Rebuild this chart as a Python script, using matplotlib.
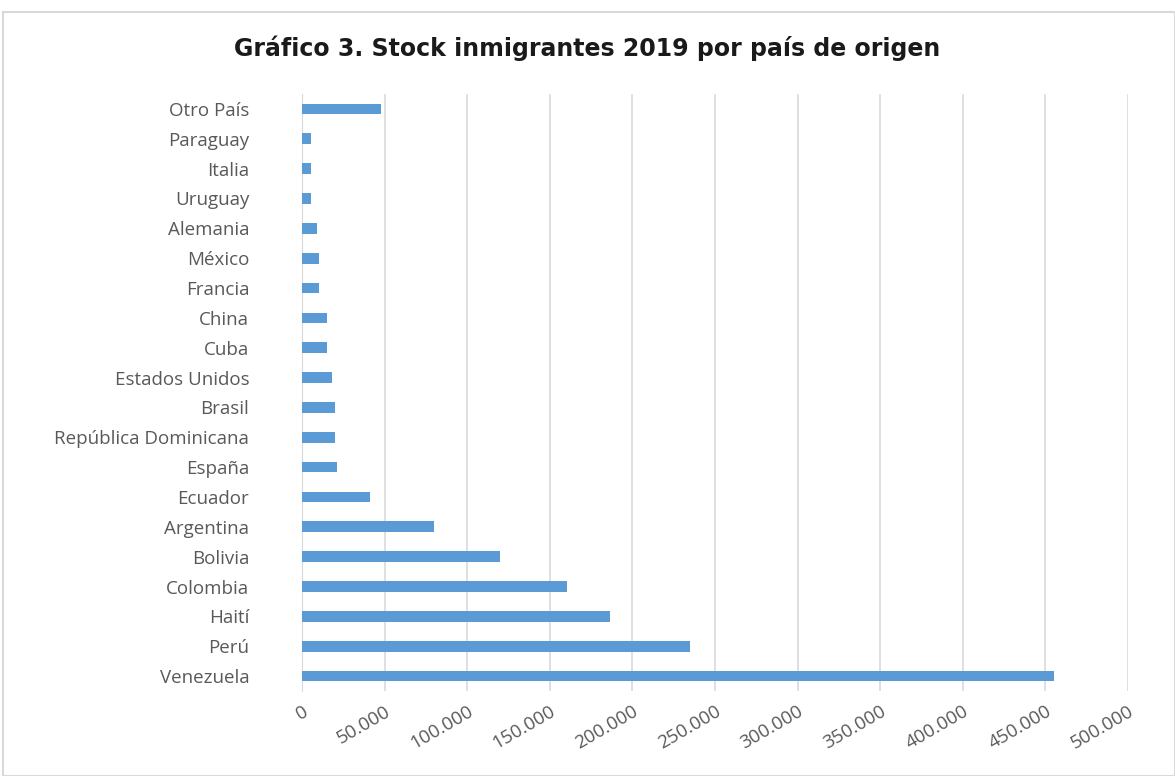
"""Stock inmigrantes 2019 por pais de origen - horizontal bar chart."""
import matplotlib
matplotlib.use("Agg")
import matplotlib.pyplot as plt
from matplotlib.patches import Rectangle
from matplotlib.ticker import FuncFormatter

paises = [
    "Venezuela", "Perú", "Haití", "Colombia", "Bolivia", "Argentina",
    "Ecuador", "España", "República Dominicana", "Brasil", "Estados Unidos",
    "Cuba", "China", "Francia", "México", "Alemania", "Uruguay", "Italia",
    "Paraguay", "Otro País",
]
stock = [
    455500, 235000, 186300, 160400, 119900, 79900,
    41200, 21200, 20100, 20000, 18200,
    15100, 15300, 10300, 10400, 9100, 5400, 5300,
    5200, 47800,
]
xticks = list(range(0, 500001, 50000))

bar_color = "#5B9BD5"
text_color = "#595959"

fig = plt.figure(figsize=(11.75, 7.76), dpi=100)
ax = fig.add_axes([302 / 1175, 1 - 691 / 776, (1128 - 302) / 1175, (691 - 94) / 776])

ax.barh(range(len(paises)), stock, height=0.36, color=bar_color, zorder=3)
ax.set_yticks(range(len(paises)))
ax.set_yticklabels(paises)
ax.set_ylim(-0.5, len(paises) - 0.5)

ax.set_xlim(0, 500000)
ax.set_xticks(xticks)
ax.xaxis.set_major_formatter(FuncFormatter(lambda v, p: f"{int(v):,}".replace(",", ".")))
ax.grid(axis="x", color="#D9D9D9", linewidth=1.2, zorder=0)

for side in ["top", "right", "bottom"]:
    ax.spines[side].set_visible(False)
ax.spines["left"].set_color("#D9D9D9")

ax.tick_params(axis="both", length=0, colors=text_color)
ax.tick_params(axis="y", pad=38, labelsize=13.5)
ax.tick_params(axis="x", pad=8, labelsize=13.5)
for lbl in ax.get_yticklabels():
    lbl.set_fontfamily("Open Sans")
for lbl in ax.get_xticklabels():
    lbl.set_fontfamily("Open Sans")
    lbl.set_rotation(30)
    lbl.set_ha("right")
    lbl.set_rotation_mode("anchor")

fig.text(0.5, 1 - 48 / 776, "Gráfico 3. Stock inmigrantes 2019 por país de origen",
         ha="center", va="center", fontsize=17, fontweight="bold",
         family="DejaVu Sans", color="#1a1a1a")

# light frame around the chart area
fig.patches.append(Rectangle((3 / 1175, 0), 1 - 3 / 1175, 1 - 12 / 776,
                             transform=fig.transFigure, fill=False,
                             edgecolor="#D9D9D9", linewidth=1.5))

fig.savefig("out.png", dpi=100)
